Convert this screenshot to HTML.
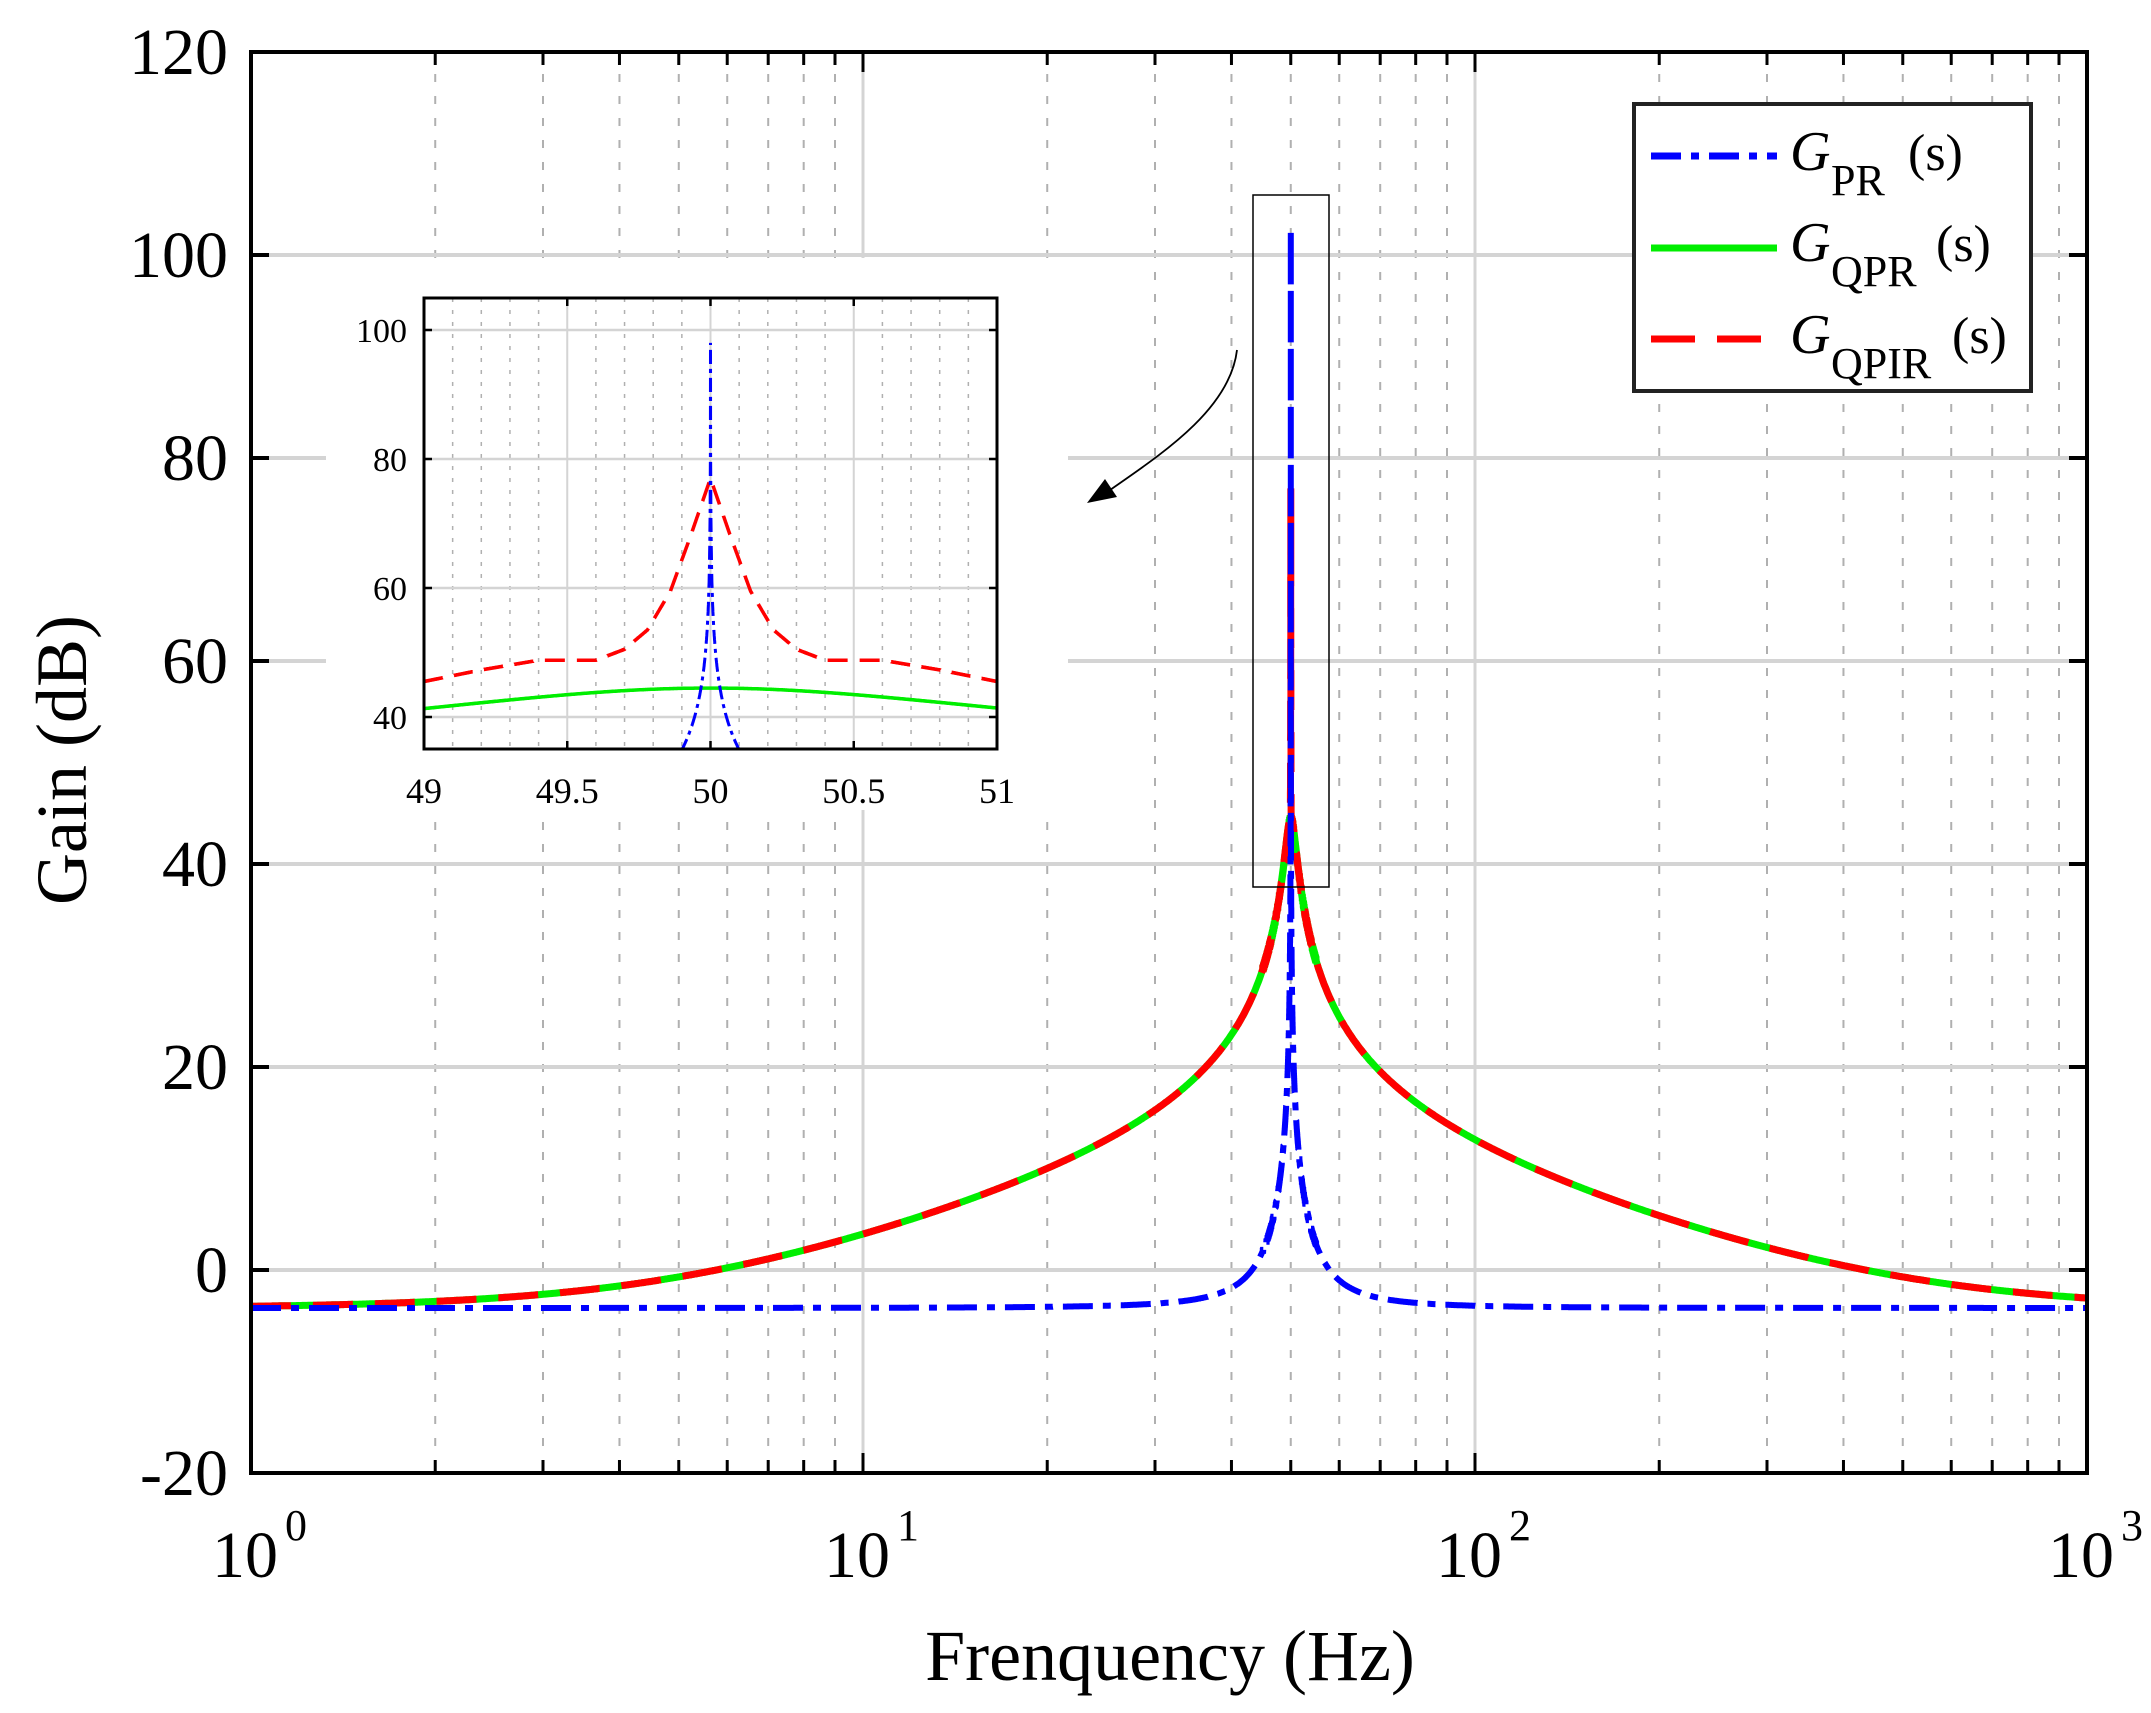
<!DOCTYPE html>
<html><head><meta charset="utf-8"><style>
html,body{margin:0;padding:0;background:#fff;}
svg{display:block;}
text{font-family:"Liberation Serif",serif;fill:#000;}
</style></head><body>
<svg id="s" width="2151" height="1713" viewBox="0 0 2151 1713" xmlns="http://www.w3.org/2000/svg"></svg>
<script>
const S=document.getElementById('s');let h='';
const L=251,R=2087,T=52,B=1473;
const X=f=>L+612*Math.log10(f), Y=d=>1270-10.15*d;
// grid
for(let dec=0;dec<3;dec++){for(let k=2;k<=9;k++){const x=X(k*Math.pow(10,dec));h+=`<line x1="${x}" y1="${T}" x2="${x}" y2="${B}" stroke="#b0b0b0" stroke-width="2" stroke-dasharray="8 14"/>`;}}
for(let dec=1;dec<3;dec++){const x=X(Math.pow(10,dec));h+=`<line x1="${x}" y1="${T}" x2="${x}" y2="${B}" stroke="#d4d4d4" stroke-width="3"/>`;}
for(let d=0;d<=100;d+=20){const y=Y(d);h+=`<line x1="${L}" y1="${y}" x2="${R}" y2="${y}" stroke="#d4d4d4" stroke-width="4"/>`;}
// ticks
for(let dec=0;dec<3;dec++){for(let k=1;k<=9;k++){const x=X(k*Math.pow(10,dec));const len=k==1?20:13;
h+=`<line x1="${x}" y1="${B}" x2="${x}" y2="${B-len}" stroke="#000" stroke-width="3"/><line x1="${x}" y1="${T}" x2="${x}" y2="${T+len}" stroke="#000" stroke-width="3"/>`;}}
for(let d=-20;d<=120;d+=20){const y=Y(d);h+=`<line x1="${L}" y1="${y}" x2="${L+18}" y2="${y}" stroke="#000" stroke-width="4"/><line x1="${R}" y1="${y}" x2="${R-18}" y2="${y}" stroke="#000" stroke-width="4"/>`;
h+=`<text x="228" y="${y+22}" font-size="66" text-anchor="end">${d}</text>`;}
for(let dec=0;dec<=3;dec++){const x=X(Math.pow(10,dec));h+=`<text x="${x-6}" y="1577" font-size="66" text-anchor="middle">10</text><text x="${x+34}" y="1540" font-size="44">${dec}</text>`;}
h+=`<text x="1170" y="1680" font-size="72" text-anchor="middle">Frenquency (Hz)</text>`;
h+=`<text transform="translate(86,760) rotate(-90)" font-size="72" text-anchor="middle">Gain (dB)</text>`;
// models
const w0=2*Math.PI*50,Kp=0.65,Kr=70,Kq=167,wc=6.1;
function cdiv(a,b,c,d){const m=c*c+d*d;return[(a*c+b*d)/m,(b*c-a*d)/m];}
function pr(f){const w=2*Math.PI*f;const im=Kr*w/(w0*w0-w*w);return 20*Math.log10(Math.hypot(Kp,im));}
function qpr(f){const w=2*Math.PI*f;const [re,im]=cdiv(0,2*Kq*wc*w,w0*w0-w*w,2*wc*w);return 20*Math.log10(Math.hypot(Kp+re,im));}
function qpir(f){const g=qpr(f);const p=77-120*Math.sqrt(Math.abs(f-50));return Math.max(g,p);}
let fs=[];for(let i=0;i<=3000;i++)fs.push(Math.pow(10,i*3/3000));
for(let i=-2000;i<=2000;i++)fs.push(50+i*0.0025);
fs.sort((a,b)=>a-b);
function path(fn,cap,Xf,Yf,list){let p='';list.forEach((f,i)=>{let d=Math.min(fn(f),cap);p+=(i?'L':'M')+Xf(f).toFixed(1)+','+Yf(d).toFixed(1);});return p;}
h+=`<path d="${path(qpr,200,X,Y,fs)}" fill="none" stroke="#00ee00" stroke-width="7"/>`;
h+=`<path d="${path(qpir,200,X,Y,fs)}" fill="none" stroke="#ff0000" stroke-width="7" stroke-dasharray="40 22"/>`;
h+=`<path d="${path(pr,102.5,X,Y,fs)}" fill="none" stroke="#0000ff" stroke-width="6" stroke-dasharray="30 10 8 10"/>`;
// axes box
h+=`<rect x="${L}" y="${T}" width="${R-L}" height="${B-T}" fill="none" stroke="#000" stroke-width="4"/>`;
// highlight box
h+=`<rect x="1253" y="195" width="76" height="692" fill="none" stroke="#000" stroke-width="1.5"/>`;
// arrow
h+=`<path d="M1237,350 C1230,410 1160,455 1110,490" fill="none" stroke="#000" stroke-width="1.8"/><polygon points="1087,503 1105,479 1117,497" fill="#000"/>`;
// inset
h+=`<rect x="326" y="258" width="742" height="552" fill="#fff"/>`;
const iL=424,iR=997,iT=298,iB=749;
const IX=f=>iL+(f-49)*286.5, IY=d=>717-(d-40)*6.45;
for(let k=1;k<20;k++){const f=49+k*0.1;if(k%5==0)continue;const x=IX(f);h+=`<line x1="${x}" y1="${iT}" x2="${x}" y2="${iB}" stroke="#b0b0b0" stroke-width="1.5" stroke-dasharray="4 8"/>`;}
for(const f of [49.5,50,50.5]){const x=IX(f);h+=`<line x1="${x}" y1="${iT}" x2="${x}" y2="${iB}" stroke="#d4d4d4" stroke-width="2"/>`;}
for(const d of [40,60,80,100]){const y=IY(d);h+=`<line x1="${iL}" y1="${y}" x2="${iR}" y2="${y}" stroke="#d4d4d4" stroke-width="2.5"/><line x1="${iL}" y1="${y}" x2="${iL+8}" y2="${y}" stroke="#000" stroke-width="2.5"/><line x1="${iR}" y1="${y}" x2="${iR-8}" y2="${y}" stroke="#000" stroke-width="2.5"/><text x="407" y="${y+12}" font-size="34" text-anchor="end">${d}</text>`;}
for(const f of [49,49.5,50,50.5,51]){const x=IX(f);h+=`<line x1="${x}" y1="${iB}" x2="${x}" y2="${iB-8}" stroke="#000" stroke-width="2.5"/><line x1="${x}" y1="${iT}" x2="${x}" y2="${iT+8}" stroke="#000" stroke-width="2.5"/><text x="${x}" y="803" font-size="36" text-anchor="middle">${f}</text>`;}
h+=`<clipPath id="ic"><rect x="${iL}" y="${iT}" width="${iR-iL}" height="${iB-iT}"/></clipPath><g clip-path="url(#ic)">`;
let ifs=[];for(let i=0;i<=4000;i++)ifs.push(49+i*0.0005);
h+=`<path d="${path(qpr,200,IX,IY,ifs)}" fill="none" stroke="#00ee00" stroke-width="3.5"/>`;
const rp=[[49,45.5],[49.2,47.3],[49.4,48.8],[49.6,48.8],[49.7,50.5],[49.78,53.5],[49.86,59.5],[49.93,68],[50,77]];
function redI(f){let g=f>50?100-f:f;for(let i=0;i<rp.length-1;i++){if(g>=rp[i][0]&&g<=rp[i+1][0]){const t=(g-rp[i][0])/(rp[i+1][0]-rp[i][0]);return rp[i][1]+t*(rp[i+1][1]-rp[i][1]);}}return 77;}
h+=`<path d="${path(redI,200,IX,IY,ifs)}" fill="none" stroke="#ff0000" stroke-width="3.5" stroke-dasharray="20 12"/>`;
h+=`<path d="${path(pr,98,IX,IY,ifs)}" fill="none" stroke="#0000ff" stroke-width="3" stroke-dasharray="14 5 4 5"/>`;
h+=`</g><rect x="${iL}" y="${iT}" width="${iR-iL}" height="${iB-iT}" fill="none" stroke="#000" stroke-width="3"/>`;
// legend
h+=`<rect x="1634" y="104" width="397" height="287" fill="#fff" stroke="#222" stroke-width="4"/>`;
h+=`<line x1="1651" y1="156" x2="1777" y2="156" stroke="#0000ff" stroke-width="7" stroke-dasharray="30 10 8 10"/>`;
h+=`<line x1="1651" y1="248" x2="1777" y2="248" stroke="#00ee00" stroke-width="7"/>`;
h+=`<line x1="1651" y1="339" x2="1777" y2="339" stroke="#ff0000" stroke-width="7" stroke-dasharray="44 22"/>`;
const lg=[['PR',170,1908],['QPR',261,1936],['QPIR',353,1952]];
lg.forEach(([sub,y,sx])=>{h+=`<text x="1790" y="${y}" font-size="56" font-style="italic">G</text><text x="1831" y="${y+25}" font-size="44">${sub}</text><text x="${sx}" y="${y}" font-size="52">(s)</text>`;});
S.innerHTML=h;
</script>
</body></html>
